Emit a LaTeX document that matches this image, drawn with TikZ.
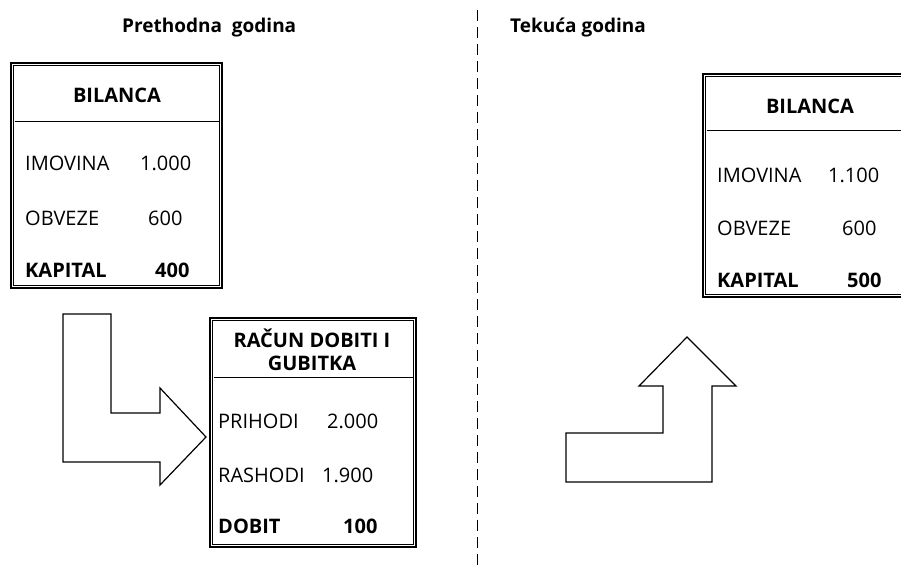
\documentclass[tikz,border=0pt]{standalone}
\usepackage{fontspec}
\setmainfont{Open Sans}
\begin{document}
\begin{tikzpicture}[x=1pt,y=-1pt,
  txt/.style={font=\fontsize{20}{24}\selectfont, inner sep=0pt, anchor=base west},
  btxt/.style={font=\fontsize{20}{24}\selectfont\bfseries, inner sep=0pt, anchor=base west},
  ttl/.style={font=\fontsize{20}{24}\selectfont\bfseries, inner sep=0pt, anchor=base},
  head/.style={font=\fontsize{19}{23}\selectfont\bfseries, inner sep=0pt, anchor=base west},
  outerbox/.style={draw, line width=1.6pt, rectangle, inner sep=0pt},
  innerline/.style={line width=0.8pt},
  blockarrow/.style={draw, line width=1.2pt, line join=miter, fill=white},
  divider/.style={line width=1pt, dash pattern=on 11pt off 6pt}]
\useasboundingbox (0,0) rectangle (901,566);
\clip (0,0) rectangle (901,566);
\fill[white] (0,0) rectangle (901,566);

% divider and headings
\draw[divider] (477,10) -- (477,566);
\node[head] (h1) at (122,32) {Prethodna\ \ godina};
\node[head] (h2) at (510,32) {Tekuća godina};

% left balance sheet
\node[outerbox, minimum width=211pt, minimum height=225pt] (lbox) at (116.5,175.5) {};
\draw[innerline] ([xshift=3.5pt,yshift=-3.5pt]lbox.north west) rectangle ([xshift=-3.5pt,yshift=3.5pt]lbox.south east);
\draw[innerline] (14.5,121) -- (218.5,121);
\node[ttl] (lt) at (117,102) {BILANCA};
\node[txt] (l1) at (25,170) {IMOVINA};
\node[txt] (l1v) at (140,170) {1.000};
\node[txt] (l2) at (25,225) {OBVEZE};
\node[txt] (l2v) at (148,225) {600};
\node[btxt] (l3) at (25,277) {KAPITAL};
\node[btxt] (l3v) at (155,277) {400};

% income statement
\node[outerbox, minimum width=206pt, minimum height=229pt] (rbox) at (313,432.5) {};
\draw[innerline] ([xshift=3.5pt,yshift=-3.5pt]rbox.north west) rectangle ([xshift=-3.5pt,yshift=3.5pt]rbox.south east);
\draw[innerline] (213.5,377) -- (412.5,377);
\node[ttl] (rt1) at (312,347) {RAČUN DOBITI I};
\node[ttl] (rt2) at (312,370) {GUBITKA};
\node[txt] (r1) at (218,428) {PRIHODI};
\node[txt] (r1v) at (327,428) {2.000};
\node[txt] (r2) at (218,482) {RASHODI};
\node[txt] (r2v) at (322,482) {1.900};
\node[btxt] (r3) at (218,533) {DOBIT};
\node[btxt] (r3v) at (343,533) {100};

% right balance sheet
\node[outerbox, minimum width=207pt, minimum height=223pt] (nbox) at (806.5,185.5) {};
\draw[innerline] ([xshift=3.5pt,yshift=-3.5pt]nbox.north west) rectangle ([xshift=-3.5pt,yshift=3.5pt]nbox.south east);
\draw[innerline] (706.5,130) -- (906.5,130);
\node[ttl] (nt) at (810,113) {BILANCA};
\node[txt] (n1) at (717,182) {IMOVINA};
\node[txt] (n1v) at (828,182) {1.100};
\node[txt] (n2) at (717,235) {OBVEZE};
\node[txt] (n2v) at (842,235) {600};
\node[btxt] (n3) at (717,287) {KAPITAL};
\node[btxt] (n3v) at (847,287) {500};

% block arrows
\draw[blockarrow] (63,314) -- (111,314) -- (111,413) -- (160,413) -- (160,388) -- (206,437) -- (160,485) -- (160,462) -- (63,462) -- cycle;
\draw[blockarrow] (566,482) -- (712,482) -- (712,386) -- (736,386) -- (687,337) -- (639,386) -- (663,386) -- (663,433) -- (566,433) -- cycle;
\end{tikzpicture}
\end{document}
